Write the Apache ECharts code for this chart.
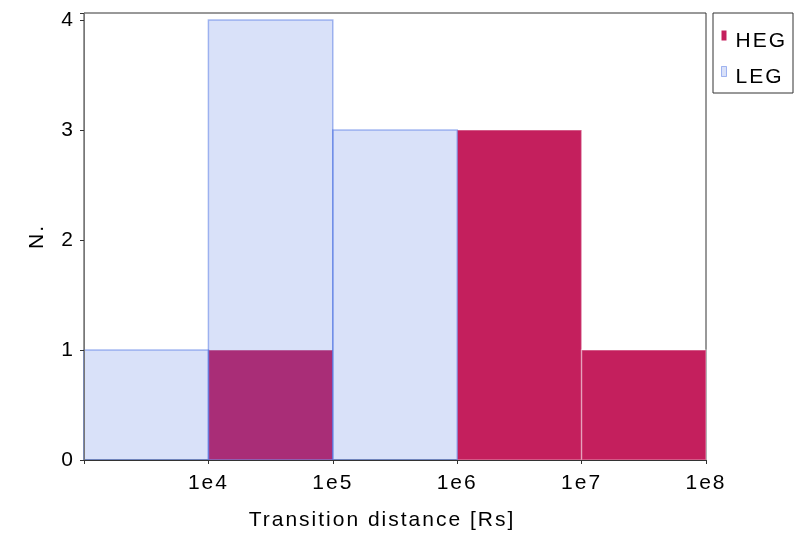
<!DOCTYPE html>
<html>
<head>
<meta charset="utf-8">
<script src="https://cdn.jsdelivr.net/npm/echarts@6/dist/echarts.min.js"></script>
<style>
  html, body { margin: 0; padding: 0; background: #fff; }
  #main { width: 797px; height: 534px; }
</style>
</head>
<body>
<div id="main"></div>
<script>
// bin edges (one per decade) and counts per bin
var binEdges = [1e3, 1e4, 1e5, 1e6, 1e7, 1e8];
var hegCounts = [0, 1, 0, 3, 1];
var legCounts = [1, 4, 3, 0, 0];
var xTicks = ['1e4', '1e5', '1e6', '1e7', '1e8'];

// the original plot uses slightly spaced-out lettering
(function () {
  var proto = window.CanvasRenderingContext2D && CanvasRenderingContext2D.prototype;
  if (!proto || !('letterSpacing' in proto)) return;
  ['fillText', 'strokeText', 'measureText'].forEach(function (fn) {
    var orig = proto[fn];
    proto[fn] = function () {
      this.letterSpacing = '2px';
      return orig.apply(this, arguments);
    };
  });
})();

var myChart = echarts.init(document.getElementById('main'));

function toBars(counts) {
  var out = [];
  for (var i = 0; i < counts.length; i++) {
    if (counts[i] > 0) out.push([binEdges[i], binEdges[i + 1], counts[i]]);
  }
  return out;
}

function renderBar(fill, stroke) {
  return function (params, api) {
    var p0 = api.coord([api.value(0), 0]);
    var p1 = api.coord([api.value(1), api.value(2)]);
    return {
      type: 'rect',
      shape: { x: p0[0], y: p1[1], width: p1[0] - p0[0], height: p0[1] - p1[1] },
      style: { fill: fill, stroke: stroke, lineWidth: 1.5 }
    };
  };
}

var hegColor = '#c41f5d';
var legFill = 'rgba(65,105,225,0.2)';
var legEdge = 'rgba(65,105,225,0.45)';
// legend marker: small 5x10 block in the upper-left of a 9x22 cell
var markerIcon = 'path://M0,0L5,0L5,10L0,10Z M9,22L9,22';

var txt = { fontFamily: 'Liberation Sans', fontSize: 21, color: '#000' };

var option = {
  animation: false,
  grid: {
    left: 84, right: 91, top: 13, bottom: 74,
    outerBoundsMode: 'none', containLabel: false,
    show: true, borderColor: '#333', borderWidth: 1
  },
  legend: {
    data: [
      { name: 'HEG', icon: markerIcon, itemStyle: { color: hegColor } },
      { name: 'LEG', icon: markerIcon, itemStyle: { color: legFill, borderColor: legEdge, borderWidth: 1 } }
    ],
    orient: 'vertical',
    left: 713, top: 13,
    padding: [17, 6, 4, 8],
    itemWidth: 9, itemHeight: 22, itemGap: 13,
    borderColor: '#333', borderWidth: 1,
    textStyle: txt
  },
  xAxis: {
    type: 'log', logBase: 10, min: 1e3, max: 1e8, z: 3,
    name: 'Transition distance [Rs]', nameLocation: 'middle', nameGap: 49,
    nameTextStyle: Object.assign({ padding: [0, 26, 0, 0] }, txt),
    axisLine: { lineStyle: { color: '#333' } },
    axisTick: { length: 4, lineStyle: { color: '#333' } },
    splitLine: { show: false },
    axisLabel: Object.assign({
      margin: 12, showMinLabel: false,
      formatter: function (v) {
        var k = Math.round(Math.log10(v));
        return k >= 4 ? xTicks[k - 4] : '';
      }
    }, txt)
  },
  yAxis: {
    type: 'value', min: 0, max: 4.064, interval: 1, z: 3,
    name: 'N.', nameLocation: 'middle', nameGap: 35,
    nameTextStyle: txt,
    axisLine: { show: true, lineStyle: { color: '#777' } },
    axisTick: { show: true, length: 4, lineStyle: { color: '#333' } },
    splitLine: { show: false },
    axisLabel: Object.assign({
      margin: 9,
      formatter: function (v) { return Number.isInteger(v) ? String(v) : ''; }
    }, txt)
  },
  series: [
    {
      name: 'HEG', type: 'custom', color: hegColor,
      renderItem: renderBar(hegColor, 'rgba(255,255,255,0.35)'),
      encode: { x: [0, 1], y: 2 },
      data: toBars(hegCounts)
    },
    {
      name: 'LEG', type: 'custom', color: legFill,
      renderItem: renderBar(legFill, legEdge),
      encode: { x: [0, 1], y: 2 },
      data: toBars(legCounts)
    }
  ]
};

myChart.setOption(option);
</script>
</body>
</html>
